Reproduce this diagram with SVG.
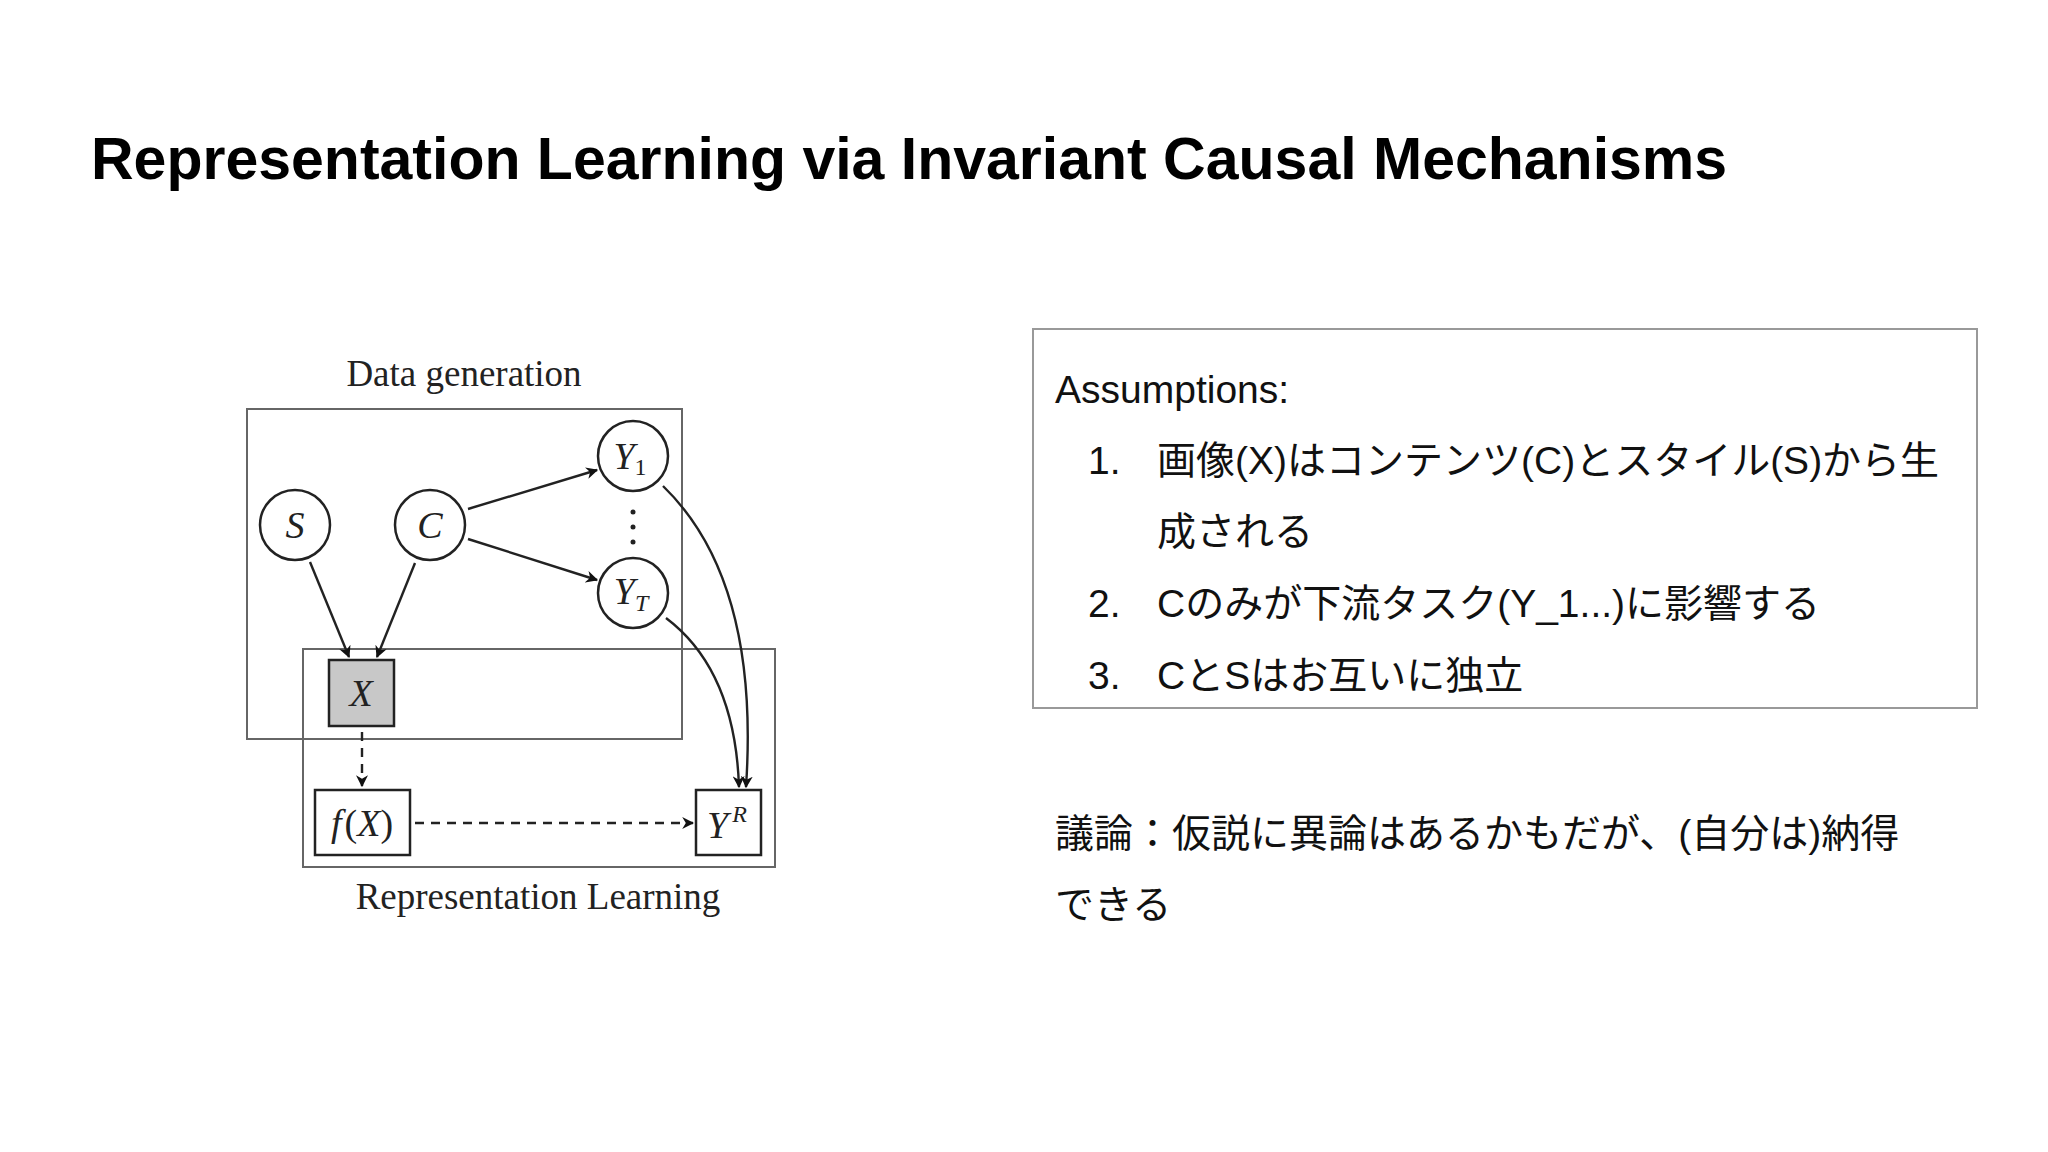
<svg xmlns="http://www.w3.org/2000/svg" width="2048" height="1152" viewBox="0 0 2048 1152">
<defs>
<marker id="ah" viewBox="0 0 10 10" refX="9" refY="5" markerWidth="12" markerHeight="12" markerUnits="userSpaceOnUse" orient="auto"><path d="M0,0 L10,5 L0,10 L3,5 Z" fill="#111"/></marker>
<style>
.m{font-family:"Liberation Serif",serif;font-style:italic;fill:#222;text-anchor:middle}
.s{font-family:"Liberation Serif",serif;fill:#222;text-anchor:middle;font-size:37px}
.n{fill:#fff;stroke:#222;stroke-width:2.5}
.e{fill:none;stroke:#222;stroke-width:2.4}
.d{stroke-dasharray:9 7}
.t{font-family:"Liberation Sans","Noto Sans CJK JP",sans-serif;font-size:39px;fill:#111}
</style>
</defs>
<rect width="2048" height="1152" fill="#fff"/>
<text x="91" y="179" font-family="Liberation Sans,sans-serif" font-weight="bold" font-size="59" fill="#000">Representation Learning via Invariant Causal Mechanisms</text>
<g id="plates">
<rect x="247" y="409" width="435" height="330" fill="none" stroke="#666" stroke-width="2"/>
<rect x="303" y="649" width="472" height="218" fill="none" stroke="#666" stroke-width="2"/>
<text class="s" x="464" y="386">Data generation</text>
<text class="s" x="538" y="909">Representation Learning</text>
</g>
<g id="S"><circle class="n" cx="295" cy="525" r="35"/><text class="m" x="295" y="538" font-size="38">S</text></g>
<g id="C"><circle class="n" cx="430" cy="525" r="35"/><text class="m" x="430" y="538" font-size="38">C</text></g>
<g id="Y1"><circle class="n" cx="633" cy="456" r="35"/><text class="m" x="630" y="469" font-size="38">Y<tspan font-style="normal" font-size="24" dy="6">1</tspan></text></g>
<g id="YT"><circle class="n" cx="633" cy="593" r="35"/><text class="m" x="631" y="604" font-size="38">Y<tspan font-size="24" dy="7">T</tspan></text></g>
<g id="dots" fill="#222"><circle cx="633" cy="512" r="2.5"/><circle cx="633" cy="527" r="2.5"/><circle cx="633" cy="542" r="2.5"/></g>
<g id="X"><rect x="329" y="660" width="65" height="66" fill="#c8c8c8" stroke="#222" stroke-width="2.5"/><text class="m" x="361" y="706" font-size="38">X</text></g>
<g id="fX"><rect class="n" x="315" y="790" width="95" height="65"/><text class="m" x="362" y="836" font-size="38">f<tspan font-style="normal" dx="3">(</tspan>X<tspan font-style="normal">)</tspan></text></g>
<g id="YR"><rect class="n" x="696" y="790" width="65" height="65"/><text class="m" x="727" y="838" font-size="38">Y<tspan font-size="24" dx="4" dy="-16">R</tspan></text></g>
<g id="edges">
<line class="e" x1="310" y1="562" x2="349" y2="657" marker-end="url(#ah)"/>
<line class="e" x1="415" y1="563" x2="377" y2="657" marker-end="url(#ah)"/>
<line class="e" x1="468" y1="509" x2="597" y2="470" marker-end="url(#ah)"/>
<line class="e" x1="468" y1="539" x2="597" y2="580" marker-end="url(#ah)"/>
<path class="e" d="M663,486 Q760,580 746,787" marker-end="url(#ah)"/>
<path class="e" d="M666,618 Q735,670 739,787" marker-end="url(#ah)"/>
<line class="e d" x1="362" y1="732" x2="362" y2="786" marker-end="url(#ah)"/>
<line class="e d" x1="415" y1="823" x2="693" y2="823" marker-end="url(#ah)"/>
</g>
<g id="assumptions">
<rect x="1033" y="329" width="944" height="379" fill="none" stroke="#999" stroke-width="2"/>
<text class="t" x="1055" y="403">Assumptions:</text>
<text class="t" x="1088" y="474">1.</text><text class="t" x="1157" y="474">画像(X)はコンテンツ(C)とスタイル(S)から生</text>
<text class="t" x="1157" y="545">成される</text>
<text class="t" x="1088" y="617">2.</text><text class="t" x="1157" y="617">Cのみが下流タスク(Y_1...)に影響する</text>
<text class="t" x="1088" y="689">3.</text><text class="t" x="1157" y="689">CとSはお互いに独立</text>
</g>
<g id="discussion">
<text class="t" x="1055" y="847">議論：仮説に異論はあるかもだが、(自分は)納得</text>
<text class="t" x="1055" y="918">できる</text>
</g>
</svg>
